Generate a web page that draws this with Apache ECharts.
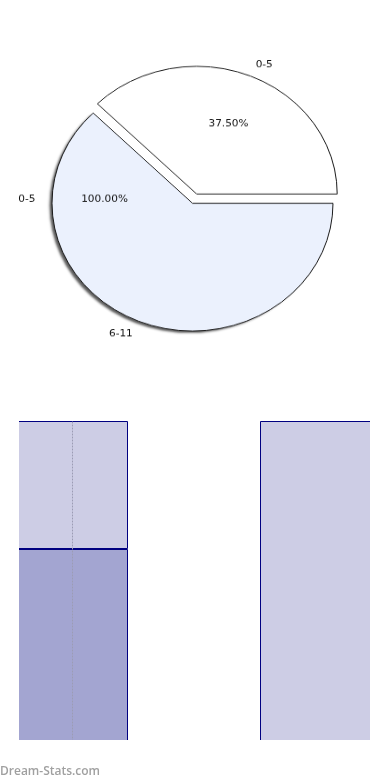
<!DOCTYPE html>
<html><head><meta charset="utf-8">
<script src="https://cdn.jsdelivr.net/npm/echarts@6/dist/echarts.min.js"></script>
<style>
html,body{margin:0;padding:0;background:#fff;width:390px;height:780px;overflow:hidden;position:relative}
#pie{position:absolute;left:0;top:0;width:390px;height:440px;transform:scaleY(0.909);transform-origin:0 0}
#barClip{position:absolute;left:19px;top:380px;width:351px;height:360px;overflow:hidden}
#bar{position:absolute;left:-19px;top:0;width:390px;height:390px}
#mark{position:absolute;left:0;top:750px;width:390px;height:30px}
</style></head><body>
<div id="pie"></div><div id="barClip"><div id="bar"></div></div><div id="mark"></div>
<script>
// ---- data ----
const pieNames = ['0-5', '6-11'];
const pieValues = [3, 5];
const extraNames = ['0-5'];
const extraValues = [3];
const barCategories = ['0-5', '6-11'];
const barDark = [60, 0];
const barLight = [40, 100];
const watermarkText = 'Dream-Stats.com';

// ---- styles ----
const pieColors = ['#FFFFFF', '#EBF1FD'];
const shadowOn = [false, true];
const pieLabelLen = [13.5, 15.5];
const labelFont = {fontFamily: 'DejaVu Sans', fontSize: 10.5, color: '#111'};
const cx = 192.5, cy = 223.6, R = 140.5;
const pctFmt = p => p.percent.toFixed(2) + '%';
const transparent = {color: 'rgba(0,0,0,0)', borderWidth: 0};

const pie = echarts.init(document.getElementById('pie'));
pie.setOption({
  animation: false,
  series: [
    {
      // drop shadow layer underneath
      type: 'pie', center: [cx, cy], radius: [0, R - 0.5], startAngle: 135, clockwise: true,
      selectedMode: 'single', selectedOffset: 11, avoidLabelOverlap: false, silent: true,
      data: pieNames.map((n, i) => ({name: n, value: pieValues[i], selected: i === 0,
        itemStyle: shadowOn[i]
          ? {color: pieColors[i], borderWidth: 0, shadowBlur: 2.5, shadowColor: 'rgba(0,0,0,0.65)', shadowOffsetX: -3, shadowOffsetY: 2.5}
          : transparent})),
      label: {show: false}, labelLine: {show: false},
      emphasis: {disabled: true}
    },
    {
      type: 'pie', center: [cx, cy], radius: [0, R], startAngle: 135, clockwise: true,
      selectedMode: 'single', selectedOffset: 11, avoidLabelOverlap: false, silent: true,
      data: pieNames.map((n, i) => ({name: n, value: pieValues[i], selected: i === 0,
        itemStyle: {color: pieColors[i]},
        labelLine: {show: false, length: pieLabelLen[i], length2: 0}})),
      itemStyle: {borderColor: '#1a1a1a', borderWidth: 1},
      label: Object.assign({show: true, position: 'outside', formatter: '{b}', distanceToLabelLine: 0}, labelFont),
      labelLine: {show: false, length: 13.5, length2: 0},
      emphasis: {disabled: true}
    },
    {
      type: 'pie', center: [cx, cy], radius: [0, 160], startAngle: 135, clockwise: true,
      selectedMode: 'single', selectedOffset: 11, avoidLabelOverlap: false, silent: true,
      data: pieNames.map((n, i) => ({name: n, value: pieValues[i], selected: i === 0, label: {show: i === 0}})),
      itemStyle: transparent,
      label: Object.assign({position: 'inner', formatter: pctFmt}, labelFont),
      labelLine: {show: false},
      emphasis: {disabled: true}
    },
    {
      type: 'pie', center: [cx, 219.5], radius: [0, R], startAngle: 0, clockwise: true,
      avoidLabelOverlap: false, silent: true,
      data: extraNames.map((n, i) => ({name: n, value: extraValues[i]})),
      itemStyle: transparent,
      label: Object.assign({show: true, position: 'outside', formatter: '{b}', distanceToLabelLine: 0}, labelFont),
      labelLine: {show: false, length: 16.5, length2: 0},
      emphasis: {disabled: true}
    },
    {
      type: 'pie', center: [cx, 219.5], radius: [0, 170], startAngle: 0, clockwise: true,
      avoidLabelOverlap: false, silent: true,
      data: extraNames.map((n, i) => ({name: n, value: extraValues[i]})),
      itemStyle: transparent,
      label: Object.assign({show: true, position: 'inner', formatter: pctFmt}, labelFont),
      labelLine: {show: false},
      emphasis: {disabled: true}
    }
  ]
});

const bar = echarts.init(document.getElementById('bar'));
bar.setOption({
  animation: false,
  grid: {left: 72, right: 74, top: 41, bottom: 29},
  xAxis: {type: 'category', data: barCategories, boundaryGap: false,
    axisLine: {show: false}, axisTick: {show: false}, axisLabel: {show: false}, splitLine: {show: false}},
  yAxis: {type: 'value', min: 0, max: 100, z: 10,
    axisLine: {show: true, lineStyle: {color: '#9c9cb4', width: 1, type: [1, 2]}},
    axisTick: {show: false}, axisLabel: {show: false}, splitLine: {show: false}},
  series: [
    {type: 'bar', stack: 's', data: barDark, barWidth: 112, clip: false, silent: true,
      itemStyle: {color: '#A3A5D1', borderColor: '#000080', borderWidth: 1}},
    {type: 'bar', stack: 's', data: barLight, barWidth: 112, clip: false, silent: true,
      itemStyle: {color: '#CDCDE5', borderColor: '#000080', borderWidth: 1}}
  ]
});

const mark = echarts.init(document.getElementById('mark'));
mark.setOption({
  title: {text: watermarkText, left: -5, top: 11,
    textStyle: {color: '#a0a0a0', fontSize: 12, fontWeight: 600, fontFamily: 'Open Sans'}}
});
</script>
</body></html>
